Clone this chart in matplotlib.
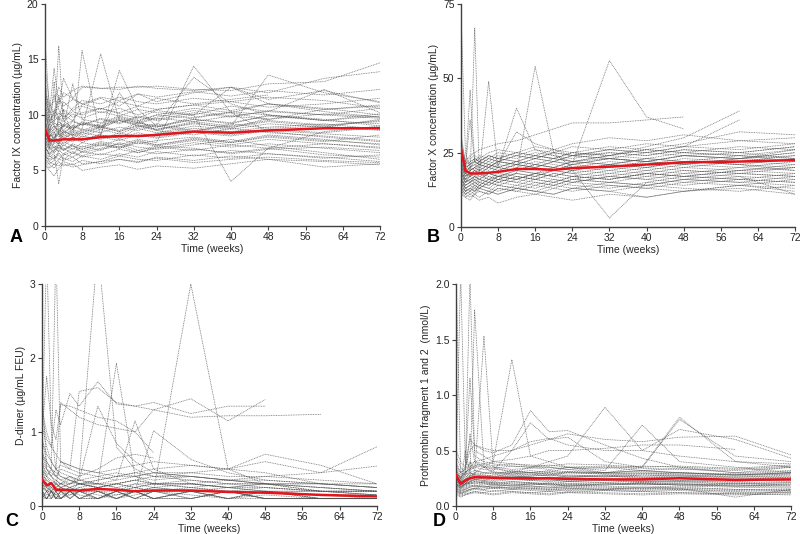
import numpy as np
import matplotlib
matplotlib.use("Agg")
import matplotlib.pyplot as plt

plt.rcParams['font.family'] = ['Liberation Sans', 'DejaVu Sans']

nan = np.nan
weeks = [0, 1, 2, 3, 4, 6, 8, 12, 16, 20, 24, 32, 40, 48, 60, 72]
mean_weeks = [0, 1, 2, 3, 4, 8, 12, 16, 20, 24, 32, 40, 48, 60, 72]

# Panel A: Factor IX (ug/mL)
fix_patients = [
    [9.5, 8.2, 7.9, 8.5, 9.0, 8.7, 9.2, 8.8, 9.5, 9.1, 8.9, 9.8, 10.2, 9.6, 10.5, 10.8],
    [7.2, 6.5, 6.8, 7.1, 6.9, 7.3, 6.6, 7.0, 7.4, 6.8, 7.2, 7.0, 6.5, 6.9, 7.1, 6.8],
    [12.5, 9.0, 10.5, 9.8, 11.2, 10.4, 10.9, 11.5, 10.8, 11.9, 11.2, 12.0, 12.5, 11.4, 12.2, 11.1],
    [6.5, 5.8, 5.5, 6.0, 5.9, 6.2, 5.6, 5.8, 6.3, 6.0, 5.9, 6.4, 6.1, 6.5, 6.2, 5.8],
    [8.0, 7.5, 13.0, 8.2, 7.8, 8.5, 8.0, 8.7, 8.3, 8.9, 9.2, 8.6, 9.0, 9.5, 9.1, 9.4],
    [10.8, 8.5, 9.0, 16.2, 9.5, 8.8, 9.2, 9.0, 9.6, 9.3, 9.8, 10.4, 9.9, 10.3, 10.0, 9.7],
    [7.8, 7.0, 7.4, 7.6, 7.2, 7.9, 15.8, 8.0, 7.7, 8.2, 7.9, 8.4, 8.1, 8.6, 8.3, 8.0],
    [9.0, 8.1, 8.5, 8.8, 8.3, 9.1, 8.7, 15.5, 9.5, 9.0, 8.6, 9.3, 8.8, 9.7, nan, nan],
    [6.8, 6.2, 6.5, 3.8, 6.4, 6.7, 6.3, 6.9, 7.2, 6.6, 7.0, 7.5, 7.1, 7.4, 7.0, 6.6],
    [11.5, 10.2, 14.2, 11.0, 12.0, 11.5, 12.5, 12.4, 12.3, 12.6, 12.4, 12.2, 12.5, 12.0, 13.3, 13.9],
    [8.5, 7.8, 8.0, 7.6, 8.2, 7.9, 8.4, 8.1, 14.0, 10.5, 9.0, 8.5, 9.2, 8.8, 9.0, 8.6],
    [7.5, 6.9, 7.2, 7.0, 6.8, 7.4, 7.1, 7.6, 7.3, 7.8, 7.5, 14.4, 10.2, 8.5, 8.0, 7.6],
    [10.0, 9.2, 9.5, 9.8, 9.4, 10.1, 9.7, 10.3, 9.9, 10.5, 10.2, 10.0, 4.0, 7.0, 8.5, 9.0],
    [6.0, 5.5, 5.2, 5.8, 5.4, 5.6, 5.0, 5.3, 5.5, 5.1, 5.4, 5.2, 5.6, 6.0, 5.3, 5.6],
    [8.8, 7.6, 7.9, 8.3, 8.0, 8.6, 8.2, 8.9, 8.5, 9.0, 8.7, 9.4, 9.0, 13.6, 12.0, 11.2],
    [14.5, 11.0, 10.0, 9.5, 10.5, 9.8, 10.2, 10.6, 10.1, 9.7, 10.4, 10.0, 10.8, 10.3, 12.3, 10.2],
    [7.0, 6.6, 6.9, 7.3, 7.0, 6.5, 7.2, 6.8, 7.5, 7.1, 6.9, 7.3, 7.8, 7.2, 6.6, 6.0],
    [9.8, 8.8, 9.3, 9.0, 8.6, 9.4, 9.1, 9.6, 9.2, 9.8, 9.5, 10.0, 12.5, 11.0, 10.5, 10.9],
    [5.5, 5.0, 4.5, 5.2, 5.6, 5.3, 5.5, 5.8, 6.0, 5.7, 6.2, 5.9, 6.3, 6.0, 5.8, 5.5],
    [8.2, 7.3, 7.7, 7.4, 7.9, 7.6, 8.1, 7.8, 8.4, 8.0, 8.3, 8.8, 8.5, 8.9, 9.2, 8.7],
    [11.0, 9.5, 10.0, 10.8, 13.3, 11.5, 11.0, 10.5, 11.2, 10.8, 11.5, 11.0, 11.4, 11.8, nan, nan],
    [7.6, 6.8, 7.1, 6.7, 7.3, 6.9, 7.5, 7.2, 7.8, 7.4, 7.7, 8.0, 7.6, 8.2, 7.8, 7.3],
    [17.0, 10.5, 9.0, 8.6, 9.1, 8.7, 9.3, 8.9, 9.5, 9.2, 9.7, 9.4, 9.9, 9.6, 10.1, 9.8],
    [6.3, 5.9, 6.1, 6.4, 6.0, 6.6, 6.2, 6.5, 6.3, 6.8, 6.5, 6.9, 6.6, 7.0, 6.4, 6.2],
    [9.2, 8.4, 8.7, 9.2, 8.9, 12.8, 9.6, 9.3, 9.9, 9.5, 10.0, 9.7, 10.3, 10.0, 9.5, 9.2],
    [7.9, 7.2, 7.5, 7.8, 7.4, 8.0, 7.7, 8.3, 12.0, 9.5, 8.6, 8.2, 8.8, 8.4, 8.1, 7.7],
    [8.6, 8.0, 8.3, 8.0, 8.5, 8.2, 8.7, 8.4, 8.9, 8.6, 9.1, 13.4, 11.0, 10.0, 9.5, 9.9],
    [10.4, 9.4, 9.8, 10.2, 9.8, 10.3, 10.0, 10.6, 10.2, 10.8, 10.5, 10.9, 11.2, 10.7, 11.0, 11.5],
    [6.6, 6.0, 6.3, 6.0, 6.5, 6.2, 6.7, 6.4, 6.9, 6.6, 7.1, 6.8, 7.3, 7.0, 7.4, 7.1],
    [12.0, 10.8, 11.2, 12.5, 11.6, 12.2, 12.6, 12.4, 12.5, 12.5, 12.6, 12.3, 12.2, 12.8, 13.0, 14.7],
    [9.0, 7.0, 8.5, 7.2, 10.5, 8.0, 7.5, 8.2, 7.9, 8.8, 8.4, 9.0, 8.7, 9.2, 8.9, 9.6],
    [11.8, 8.0, 7.5, 9.8, 8.4, 9.0, 8.6, 9.2, 9.8, 9.4, 10.0, 10.6, 10.2, 11.0, 10.6, 10.0],
    [7.4, 6.3, 6.0, 6.8, 6.5, 7.0, 6.7, 7.3, 7.0, 7.6, 7.3, 7.9, 7.5, 8.1, 7.7, 7.4],
    [13.5, 9.8, 11.8, 10.5, 9.6, 10.6, 11.3, 11.0, 11.6, 11.2, 11.0, 11.5, 11.2, 11.6, 11.3, 10.6],
    [8.4, 7.7, 7.0, 7.5, 8.6, 8.1, 8.5, 9.0, 8.6, 9.3, 8.9, 9.6, 9.2, 10.0, 9.6, 9.0],
    [6.2, 5.6, 5.9, 6.6, 6.1, 5.8, 6.3, 6.0, 6.5, 6.2, 6.7, 6.3, 6.8, 6.5, 6.1, 6.4],
    [10.2, 8.6, 9.6, 11.8, 10.0, 9.5, 10.8, 10.2, 10.6, 10.0, 10.5, 10.9, 10.4, 11.0, 10.3, 9.8],
    [7.7, 7.1, 6.6, 7.0, 7.6, 7.2, 6.9, 7.5, 7.1, 7.7, 7.3, 7.8, 7.5, 8.0, 7.6, 8.2],
    [9.4, 8.6, 9.0, 8.3, 9.2, 8.8, 9.4, 9.0, 9.7, 9.3, 9.0, 9.6, 9.3, 9.9, 9.5, 10.1],
    [8.1, 7.4, 7.8, 8.4, 7.9, 8.3, 7.8, 8.2, 7.9, 8.4, 8.0, 8.5, 8.2, 8.7, 8.4, 8.9],
    [5.8, 5.2, 5.6, 5.4, 5.8, 5.5, 5.9, 5.6, 6.0, 5.8, 6.1, 5.7, 6.0, 6.2, 5.9, 5.7],
    [12.8, 9.6, 10.2, 11.5, 10.8, 11.4, 11.0, 11.6, 11.3, 11.9, 11.6, 12.1, 11.7, 12.2, 11.8, 12.3],
    [8.9, 8.3, 8.0, 8.6, 8.2, 8.7, 8.4, 8.9, 8.5, 9.1, 8.7, 9.2, 8.9, 9.4, 9.0, 9.5],
    [7.1, 6.4, 6.7, 7.3, 6.8, 7.2, 6.9, 7.4, 7.0, 7.5, 7.2, 7.7, 7.3, 7.8, 7.4, 7.0],
    [9.6, 8.0, 8.8, 9.4, 9.0, 9.5, 9.1, 9.7, 9.3, 9.9, 9.6, 10.2, 9.8, 10.4, 10.0, 10.6],
]
fix_mean = [8.8, 7.7, 7.7, 7.75, 7.8, 7.8, 8.0, 8.1, 8.1, 8.2, 8.5, 8.4, 8.6, 8.8, 8.8]

# Panel B: Factor X (ug/mL)
fx_patients = [
    [22, 18, 17, 19, 18, 20, 19, 21, 20, 22, 21, 23, 22, 24, 23, 25],
    [15, 13, 12, 14, 13, 15, 14, 16, 15, 14, 16, 15, 17, 16, 18, 17],
    [75, 25, 20, 22, 21, 23, 22, 24, 23, 25, 24, 26, 25, 27, 26, 28],
    [12, 10, 11, 10, 9, 10, 8, 10, 11, 10, 9, 11, 10, 12, 13, 11],
    [26, 20, 46, 22, 21, 20, 22, 21, 23, 22, 24, 23, 22, 24, 25, 23],
    [18, 15, 17, 67, 18, 16, 17, 18, 17, 19, 18, 20, 19, 21, 20, 22],
    [20, 17, 18, 19, 18, 49, 20, 19, 21, 20, 22, 21, 23, 22, 24, 23],
    [24, 19, 20, 21, 22, 21, 20, 40, 26, 24, 22, 23, 22, 24, 23, 25],
    [17, 14, 15, 16, 15, 17, 16, 18, 54, 25, 20, 19, 21, 20, 22, 21],
    [19, 16, 17, 18, 17, 18, 17, 19, 18, 19, 21, 56, 37, 33, nan, nan],
    [16, 14, 15, 14, 16, 15, 17, 16, 18, 17, 19, 3, 15, 17, 16, 18],
    [28, 22, 24, 25, 26, 27, 28, 29, 31, 33, 35, 35, 36, 37, nan, nan],
    [21, 18, 19, 20, 19, 21, 20, 22, 21, 23, 22, 24, 27, 30, 39, nan],
    [23, 20, 21, 22, 21, 23, 22, 24, 23, 25, 24, 26, 25, 27, 36, nan],
    [14, 12, 13, 12, 14, 13, 15, 14, 16, 15, 17, 16, 18, 17, 19, 20],
    [25, 21, 22, 23, 22, 24, 23, 25, 24, 26, 25, 27, 26, 28, 32, 31],
    [13, 11, 12, 13, 12, 11, 13, 12, 14, 13, 15, 14, 13, 15, 14, 16],
    [19, 16, 18, 17, 19, 18, 20, 19, 21, 20, 19, 21, 20, 22, 21, 19],
    [30, 22, 21, 23, 22, 24, 23, 25, 24, 23, 25, 24, 26, 25, 27, 26],
    [11, 10, 9, 11, 10, 12, 11, 13, 12, 11, 13, 12, 10, 12, 14, 12],
    [20, 18, 17, 18, 20, 19, 21, 20, 22, 21, 20, 22, 21, 23, 22, 24],
    [17, 15, 16, 15, 17, 16, 18, 17, 16, 18, 17, 19, 18, 20, 19, 21],
    [22, 19, 20, 21, 20, 22, 21, 32, 28, 26, 24, 25, 24, 26, 25, 27],
    [15, 13, 14, 15, 14, 16, 15, 17, 16, 15, 17, 16, 18, 17, 16, 15],
    [27, 21, 23, 24, 23, 25, 26, 25, 27, 26, 28, 30, 29, 31, 29, 30],
    [18, 16, 17, 16, 18, 17, 16, 18, 17, 19, 18, 17, 19, 18, 20, 19],
    [13, 12, 11, 12, 13, 12, 14, 13, 12, 14, 13, 15, 14, 16, 15, 14],
    [21, 17, 19, 20, 19, 21, 20, 22, 21, 20, 22, 21, 23, 22, 21, 23],
    [24, 20, 36, 22, 24, 23, 25, 24, 26, 25, 27, 26, 28, 27, 29, 28],
    [16, 14, 15, 16, 15, 14, 16, 15, 17, 16, 15, 17, 16, 18, 17, 11],
    [20, 16, 15, 17, 16, 18, 17, 19, 18, 20, 19, 21, 20, 22, 21, 20],
    [23, 18, 20, 19, 21, 20, 22, 21, 23, 22, 24, 23, 25, 24, 23, 26],
    [14, 12, 13, 14, 13, 15, 14, 13, 15, 14, 16, 15, 14, 16, 15, 17],
    [32, 21, 19, 20, 22, 21, 23, 22, 24, 23, 22, 24, 23, 25, 24, 22],
    [17, 13, 14, 15, 14, 16, 15, 17, 16, 18, 17, 16, 18, 17, 19, 18],
    [19, 15, 16, 17, 16, 18, 17, 16, 18, 17, 19, 18, 20, 19, 18, 20],
    [12, 11, 10, 11, 12, 11, 13, 12, 11, 13, 12, 14, 13, 12, 14, 13],
    [25, 20, 21, 22, 23, 22, 24, 23, 25, 24, 23, 25, 24, 26, 25, 27],
    [16, 13, 14, 13, 15, 14, 16, 15, 14, 16, 15, 17, 16, 15, 17, 16],
    [21, 17, 18, 19, 18, 20, 19, 21, 20, 19, 21, 20, 22, 21, 23, 22],
    [18, 15, 16, 17, 16, 15, 17, 16, 18, 17, 16, 18, 17, 19, 18, 17],
    [29, 19, 22, 23, 22, 24, 23, 22, 24, 23, 25, 24, 26, 25, 24, 26],
    [15, 12, 13, 12, 14, 13, 12, 14, 13, 15, 14, 13, 15, 14, 16, 15],
    [22, 18, 19, 20, 21, 20, 22, 21, 20, 22, 21, 23, 22, 21, 23, 24],
    [13, 11, 12, 11, 13, 12, 11, 13, 12, 11, 13, 12, 14, 13, 12, 14],
]
fx_mean = [26.5, 19.0, 18.0, 18.0, 18.0, 18.5, 19.5, 19.5, 19.2, 19.8, 20.3, 21.0, 21.7, 22.0, 22.5]

# Panel C: D-dimer (ug/mL FEU)
dd_patients = [
    [0.1, 0.1, 0.1, 0.2, 0.1, 0.2, 0.1, 0.2, 0.1, 0.2, 0.1, 0.2, 0.1, 0.1, 0.1, 0.1],
    [0.2, 0.1, 0.2, 0.1, 0.2, 0.1, 0.2, 0.1, 0.2, 0.1, 0.2, 0.1, 0.2, 0.1, 0.1, 0.1],
    [0.3, 0.2, 0.1, 0.2, 0.1, 0.2, 0.1, 0.1, 0.2, 0.1, 0.2, 0.2, 0.1, 0.2, 0.1, 0.1],
    [0.4, 0.3, 0.2, 0.1, 0.2, 0.1, 0.2, 0.2, 0.1, 0.2, 0.1, 0.1, 0.2, 0.1, 0.1, 0.1],
    [1.65, 0.5, 0.4, 0.3, 0.3, 0.25, 0.3, 0.25, 0.2, 0.3, 0.25, 0.2, 0.2, 0.2, 0.15, 0.1],
    [0.8, 3.5, 1.0, 0.5, 0.4, 0.35, 0.3, 0.3, 0.25, 0.3, 0.3, 0.25, 0.3, 0.25, 0.2, 0.2],
    [0.6, 0.4, 0.5, 3.5, 0.6, 0.5, 0.45, 0.4, 0.35, 0.4, 0.45, 0.4, 0.35, 0.3, 0.3, 0.25],
    [1.0, 1.75, 1.1, 0.9, 1.37, 1.35, 1.3, 1.2, 1.15, 1.0, 1.3, 1.45, 1.15, 1.44, nan, nan],
    [1.2, 0.9, 0.8, 1.3, 1.1, 1.52, 1.35, 1.68, 1.38, 1.35, 1.4, 1.25, 1.35, 1.35, nan, nan],
    [0.7, 0.6, 0.5, 0.4, 0.5, 0.45, 0.4, 3.5, 0.8, 0.5, 0.4, 0.35, 0.3, 0.3, nan, nan],
    [0.5, 0.4, 0.3, 0.3, 0.25, 0.3, 0.35, 0.3, 1.93, 0.4, 0.3, 0.3, 0.25, 0.3, 0.2, 0.2],
    [0.35, 0.3, 0.25, 0.2, 0.25, 0.2, 0.25, 0.2, 0.2, 0.25, 0.2, 3.0, 0.5, 0.3, 0.2, 0.15],
    [0.9, 0.7, 0.6, 0.5, 0.55, 0.5, 1.55, 1.6, 1.4, 1.35, 1.3, 1.2, 1.22, 1.22, 1.24, nan],
    [0.45, 0.35, 0.3, 0.35, 0.3, 0.3, 0.35, 1.35, 0.85, 0.6, 0.45, 0.4, 0.35, 0.3, 0.25, 0.2],
    [0.55, 0.45, 0.4, 0.5, 1.4, 1.3, 1.2, 1.1, 1.05, 1.0, 0.72, nan, nan, nan, nan, nan],
    [0.3, 0.25, 0.2, 0.3, 0.25, 0.3, 0.4, 0.5, 0.65, 0.7, 0.65, nan, nan, nan, nan, nan],
    [0.25, 0.2, 0.3, 0.25, 0.3, 0.35, 0.3, 0.35, 0.4, 0.45, 0.5, 0.55, 0.5, 0.7, 0.55, 0.3],
    [0.6, 0.5, 0.45, 0.4, 0.35, 0.4, 0.3, 0.35, 0.4, 0.45, 0.4, 0.45, 0.5, 0.6, 0.45, 0.8],
    [0.2, 0.15, 0.2, 0.15, 0.2, 0.15, 0.2, 0.2, 0.15, 0.2, 0.25, 0.3, 0.35, 0.4, 0.45, 0.54],
    [0.15, 0.1, 0.15, 0.1, 0.15, 0.2, 0.15, 0.1, 0.15, 0.2, 1.02, 0.63, 0.45, 0.35, 0.3, 0.25],
    [0.75, 0.55, 0.5, 0.45, 0.4, 0.35, 0.3, 0.3, 0.35, 1.15, 0.5, 0.3, 0.25, 0.2, 0.2, 0.15],
    [0.5, 0.4, 0.35, 0.3, 0.6, 0.55, 0.5, 0.45, 0.5, 0.55, 0.6, 0.55, 0.5, 0.45, 0.3, 0.3],
    [0.3, 0.25, 0.3, 0.25, 0.2, 0.25, 0.3, 0.25, 0.3, 0.25, 0.3, 0.3, 0.25, 0.3, 0.25, 0.2],
    [0.4, 0.35, 0.3, 0.25, 0.3, 0.25, 0.2, 0.25, 0.3, 0.35, 0.4, 0.4, 0.35, 0.35, 0.3, 0.25],
    [1.3, 1.0, 0.8, 0.7, 0.6, 0.55, 0.5, 0.45, 0.4, 0.4, 0.45, 0.45, 0.4, 0.4, 0.35, 0.3],
    [0.2, 0.1, 0.2, 0.1, 0.1, 0.2, 0.1, 0.2, 0.1, 0.2, 0.1, 0.2, 0.1, 0.2, 0.1, 0.1],
    [0.1, 0.2, 0.1, 0.2, 0.2, 0.1, 0.2, 0.1, 0.2, 0.1, 0.2, 0.1, 0.2, 0.1, 0.1, 0.1],
    [0.2, 0.1, 0.2, 0.1, 0.2, 0.2, 0.1, 0.2, 0.1, 0.2, 0.1, 0.1, 0.2, 0.1, 0.1, 0.1],
    [0.1, 0.2, 0.2, 0.1, 0.1, 0.2, 0.1, 0.1, 0.2, 0.1, 0.1, 0.2, 0.1, 0.2, 0.1, 0.1],
    [0.3, 0.2, 0.2, 0.2, 0.1, 0.2, 0.2, 0.1, 0.2, 0.2, 0.1, 0.2, 0.2, 0.1, 0.1, 0.1],
    [0.5, 0.3, 0.25, 0.2, 0.25, 0.2, 0.25, 0.3, 0.25, 0.2, 0.25, 0.2, 0.25, 0.2, 0.2, 0.15],
    [0.9, 0.6, 0.5, 0.4, 0.35, 0.3, 0.3, 0.25, 0.3, 0.25, 0.3, 0.25, 0.2, 0.25, 0.2, 0.2],
    [0.25, 0.2, 0.25, 0.3, 0.25, 0.2, 0.3, 0.25, 0.3, 0.35, 0.3, 0.35, 0.3, 0.3, 0.25, 0.2],
    [0.15, 0.1, 0.2, 0.15, 0.1, 0.15, 0.2, 0.15, 0.1, 0.15, 0.2, 0.15, 0.1, 0.15, 0.1, 0.1],
    [0.7, 0.5, 0.4, 0.35, 0.3, 0.4, 0.35, 0.4, 0.45, 0.4, 0.35, 0.4, 0.35, 0.3, 0.3, 0.25],
    [1.1, 0.8, 0.6, 0.5, 0.45, 0.4, 0.35, 0.3, 0.3, 0.35, 0.3, 0.3, 0.25, 0.25, 0.2, 0.2],
    [0.35, 0.25, 0.2, 0.25, 0.2, 0.25, 0.2, 0.25, 0.2, 0.25, 0.2, 0.25, 0.2, 0.2, 0.15, 0.15],
]
dd_mean = [0.36, 0.28, 0.31, 0.22, 0.22, 0.21, 0.23, 0.22, 0.20, 0.21, 0.21, 0.19, 0.18, 0.15, 0.13]

# Panel D: Prothrombin fragment 1 and 2 (nmol/L)
pf_patients = [
    [0.25, 0.2, 0.22, 0.24, 0.25, 0.26, 0.24, 0.25, 0.23, 0.24, 0.22, 0.23, 0.21, 0.22, 0.2, 0.21],
    [0.15, 0.12, 0.14, 0.15, 0.16, 0.15, 0.17, 0.16, 0.15, 0.14, 0.16, 0.15, 0.14, 0.15, 0.13, 0.12],
    [2.1, 0.3, 0.28, 0.3, 0.32, 0.3, 0.31, 0.29, 0.3, 0.28, 0.3, 0.29, 0.27, 0.28, 0.26, 0.27],
    [0.35, 2.1, 0.4, 0.35, 0.38, 0.36, 0.35, 0.33, 0.34, 0.35, 0.33, 0.35, 0.32, 0.34, 0.3, 0.32],
    [0.3, 0.25, 0.3, 2.1, 0.45, 0.4, 0.38, 0.36, 0.35, 0.37, 0.35, 0.36, 0.34, 0.33, 0.32, 0.35],
    [0.2, 0.18, 0.2, 0.25, 1.77, 0.35, 0.3, 0.28, 0.27, 0.28, 0.26, 0.27, 0.25, 0.26, 0.24, 0.25],
    [0.28, 0.22, 0.25, 0.3, 0.28, 1.53, 0.35, 0.3, 0.28, 0.3, 0.27, 0.28, 0.26, 0.27, 0.25, 0.26],
    [0.22, 0.2, 0.22, 0.24, 0.3, 0.35, 0.4, 1.32, 0.45, 0.4, 0.35, 0.3, 0.32, 0.3, 0.28, 0.3],
    [0.3, 0.25, 0.35, 0.5, 0.55, 0.5, 0.48, 0.55, 0.86, 0.67, 0.68, 0.55, 0.43, 0.35, 0.3, 0.35],
    [0.18, 0.16, 0.2, 0.22, 0.24, 0.25, 0.26, 0.3, 0.35, 0.4, 0.45, 0.89, 0.5, 0.45, 0.4, 0.38],
    [0.25, 0.22, 0.24, 0.26, 0.25, 0.27, 0.28, 0.3, 0.32, 0.3, 0.35, 0.32, 0.73, 0.4, 0.35, 0.3],
    [0.2, 0.18, 0.2, 0.22, 0.24, 0.23, 0.25, 0.26, 0.27, 0.28, 0.3, 0.3, 0.35, 0.8, 0.4, 0.35],
    [0.4, 0.3, 0.35, 0.6, 0.55, 0.52, 0.5, 0.5, 0.75, 0.6, 0.65, 0.6, 0.58, 0.62, 0.63, 0.46],
    [0.12, 0.1, 0.11, 0.12, 0.13, 0.12, 0.14, 0.13, 0.12, 0.13, 0.12, 0.14, 0.13, 0.12, 0.11, 0.1],
    [0.1, 0.08, 0.1, 0.11, 0.12, 0.11, 0.1, 0.12, 0.11, 0.1, 0.12, 0.11, 0.1, 0.11, 0.1, 0.11],
    [0.3, 0.24, 0.28, 0.32, 0.35, 0.33, 0.32, 0.5, 0.58, 0.61, 0.55, 0.5, 0.5, 0.69, 0.6, 0.43],
    [0.22, 0.19, 0.21, 0.2, 0.22, 0.21, 0.2, 0.22, 0.21, 0.2, 0.19, 0.2, 0.21, 0.2, 0.19, 0.18],
    [0.18, 0.15, 0.17, 0.19, 0.18, 0.2, 0.19, 0.18, 0.17, 0.16, 0.18, 0.17, 0.16, 0.17, 0.15, 0.14],
    [0.35, 0.28, 0.3, 0.33, 0.36, 0.38, 0.4, 0.42, 0.45, 0.5, 0.5, 0.52, 0.55, 0.55, 0.51, nan],
    [0.5, 0.4, 0.35, 1.15, 0.5, 0.45, 0.4, 0.38, 0.36, 0.35, 0.33, 0.3, 0.32, 0.3, 0.28, 0.3],
    [0.14, 0.12, 0.13, 0.15, 0.16, 0.18, 0.17, 0.16, 0.18, 0.17, 0.16, 0.15, 0.17, 0.16, 0.08, 0.15],
    [0.26, 0.21, 0.23, 0.25, 0.27, 0.26, 0.25, 0.27, 0.26, 0.25, 0.27, 0.26, 0.28, 0.27, 0.26, 0.28],
    [0.2, 0.17, 0.19, 0.21, 0.2, 0.22, 0.21, 0.2, 0.19, 0.2, 0.18, 0.19, 0.2, 0.19, 0.18, 0.19],
    [0.32, 0.26, 0.3, 0.35, 0.4, 0.42, 0.45, 0.5, 0.55, 0.6, 0.62, 0.4, 0.35, 0.78, 0.45, 0.4],
    [0.16, 0.14, 0.15, 0.17, 0.18, 0.17, 0.19, 0.18, 0.2, 0.19, 0.18, 0.2, 0.19, 0.2, 0.18, 0.17],
    [0.28, 0.22, 0.26, 0.28, 0.3, 0.29, 0.3, 0.31, 0.3, 0.32, 0.31, 0.3, 0.31, 0.3, 0.29, 0.31],
    [0.13, 0.11, 0.12, 0.14, 0.15, 0.14, 0.13, 0.15, 0.14, 0.13, 0.15, 0.14, 0.13, 0.14, 0.12, 0.13],
    [0.24, 0.2, 0.5, 0.3, 0.28, 0.27, 0.26, 0.25, 0.24, 0.25, 0.23, 0.24, 0.22, 0.23, 0.21, 0.22],
    [0.23, 0.18, 0.21, 0.23, 0.24, 0.23, 0.22, 0.24, 0.23, 0.22, 0.24, 0.23, 0.22, 0.23, 0.22, 0.24],
    [0.19, 0.16, 0.18, 0.2, 0.21, 0.2, 0.19, 0.21, 0.2, 0.19, 0.2, 0.21, 0.2, 0.19, 0.2, 0.19],
    [0.27, 0.2, 0.24, 0.27, 0.29, 0.28, 0.27, 0.28, 0.29, 0.27, 0.28, 0.27, 0.29, 0.28, 0.27, 0.29],
    [0.17, 0.14, 0.16, 0.18, 0.19, 0.18, 0.17, 0.19, 0.18, 0.17, 0.19, 0.18, 0.17, 0.18, 0.17, 0.16],
    [0.33, 0.25, 0.3, 0.34, 0.36, 0.35, 0.34, 0.36, 0.35, 0.33, 0.35, 0.34, 0.36, 0.35, 0.33, 0.36],
    [0.21, 0.17, 0.2, 0.22, 0.23, 0.22, 0.21, 0.22, 0.21, 0.2, 0.22, 0.21, 0.2, 0.21, 0.2, 0.21],
    [0.14, 0.11, 0.13, 0.15, 0.16, 0.15, 0.16, 0.15, 0.16, 0.15, 0.14, 0.15, 0.16, 0.15, 0.14, 0.15],
    [0.29, 0.23, 0.27, 0.4, 0.32, 0.3, 0.29, 0.31, 0.3, 0.29, 0.31, 0.3, 0.29, 0.3, 0.28, 0.3],
    [0.24, 0.19, 0.22, 0.25, 0.26, 0.24, 0.23, 0.25, 0.24, 0.23, 0.22, 0.24, 0.23, 0.22, 0.24, 0.23],
    [0.11, 0.09, 0.1, 0.12, 0.13, 0.12, 0.11, 0.13, 0.12, 0.11, 0.13, 0.12, 0.11, 0.12, 0.11, 0.12],
    [0.37, 0.3, 0.33, 0.38, 0.4, 0.38, 0.36, 0.38, 0.37, 0.36, 0.38, 0.37, 0.35, 0.36, 0.34, 0.37],
    [0.2, 0.16, 0.19, 0.21, 0.22, 0.21, 0.2, 0.19, 0.2, 0.21, 0.2, 0.19, 0.2, 0.19, 0.18, 0.2],
    [0.26, 0.2, 0.24, 0.27, 0.28, 0.27, 0.26, 0.27, 0.26, 0.25, 0.26, 0.27, 0.26, 0.25, 0.24, 0.26],
    [0.16, 0.13, 0.15, 0.17, 0.18, 0.17, 0.16, 0.17, 0.16, 0.15, 0.17, 0.16, 0.15, 0.16, 0.15, 0.14],
    [0.45, 0.35, 0.3, 0.65, 0.4, 0.35, 0.33, 0.32, 0.3, 0.31, 0.3, 0.29, 0.3, 0.29, 0.28, 0.29],
]
pf_mean = [0.28, 0.20, 0.23, 0.25, 0.26, 0.255, 0.25, 0.25, 0.25, 0.245, 0.24, 0.24, 0.25, 0.235, 0.24]

x_ticks = [0, 8, 16, 24, 32, 40, 48, 56, 64, 72]

panels = [
    dict(pos=[0.056, 0.577, 0.419, 0.4155], data=fix_patients, mean=fix_mean,
         ylim=(0, 20), yticks=[0, 5, 10, 15, 20], yfmt="{:g}",
         ylabel="Factor IX concentration (\u00b5g/mL)", letter="A", lpos=(0.012, 0.539)),
    dict(pos=[0.576, 0.575, 0.418, 0.4175], data=fx_patients, mean=fx_mean,
         ylim=(0, 75), yticks=[0, 25, 50, 75], yfmt="{:g}",
         ylabel="Factor X concentration (\u00b5g/mL)", letter="B", lpos=(0.533, 0.539)),
    dict(pos=[0.0525, 0.0524, 0.4185, 0.4156], data=dd_patients, mean=dd_mean,
         ylim=(0, 3), yticks=[0, 1, 2, 3], yfmt="{:g}",
         ylabel="D-dimer (\u00b5g/mL FEU)", letter="C", lpos=(0.006, 0.008)),
    dict(pos=[0.57, 0.0524, 0.419, 0.4156], data=pf_patients, mean=pf_mean,
         ylim=(0, 2), yticks=[0, 0.5, 1.0, 1.5, 2.0], yfmt="{:.1f}",
         ylabel="Prothrombin fragment 1 and 2  (nmol/L)", letter="D", lpos=(0.541, 0.008)),
]

fig = plt.figure(figsize=(8, 5.34), dpi=100)
for p in panels:
    ax = fig.add_axes(p["pos"])
    for series in p["data"]:
        ax.plot(weeks, series, color="0.3", lw=0.55, ls=(0, (1.2, 1.0)), alpha=0.8, zorder=2)
    ax.plot(mean_weeks, p["mean"], color="#e3141b", lw=1.8, zorder=5)
    ax.set_xlim(0, 72)
    ax.set_ylim(*p["ylim"])
    ax.set_xticks(x_ticks)
    ax.set_yticks(p["yticks"])
    ax.set_yticklabels([p["yfmt"].format(v) for v in p["yticks"]])
    for s in ("top", "right"):
        ax.spines[s].set_visible(False)
    for s in ("left", "bottom"):
        ax.spines[s].set_color("0.25")
        ax.spines[s].set_linewidth(1.0)
    ax.tick_params(direction="out", length=3, width=0.8, colors="0.25",
                   labelsize=7.5, labelcolor="0.15", pad=1.5)
    ax.set_xlabel("Time (weeks)", fontsize=7.5, color="0.15", labelpad=1)
    ax.set_ylabel(p["ylabel"], fontsize=7.5, color="0.15", labelpad=3)
    fig.text(p["lpos"][0], p["lpos"][1], p["letter"], fontsize=13,
             fontweight="bold", color="black", ha="left", va="bottom")

fig.savefig("out.png", dpi=100)
